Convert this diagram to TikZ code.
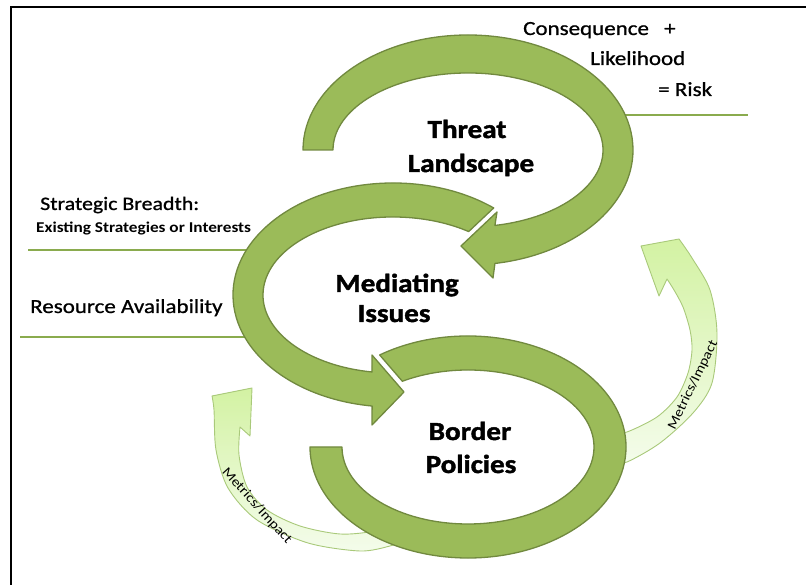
\documentclass[tikz,border=0pt]{standalone}
\usepackage{fontspec}
\setmainfont{Carlito}[FakeStretch=1.15]
\newfontfamily\semibfont{Carlito}[FakeStretch=1.15,FakeBold=0.9]
\newfontfamily\heavyfont{Carlito}[FakeStretch=1.12,BoldFont={Carlito Bold},BoldFeatures={FakeBold=1.6,FakeStretch=1.12}]
\usetikzlibrary{calc}
\definecolor{ringfill}{HTML}{9BBB59}
\definecolor{ringdraw}{HTML}{71893F}
\definecolor{lineg}{HTML}{8AAB4E}
\definecolor{lighttop}{HTML}{D3F2A3}
\definecolor{lightbot}{HTML}{F4FCEB}
\definecolor{lightdraw}{HTML}{A9C97A}
\begin{document}
\begin{tikzpicture}[x=1pt,y=1pt,
  ring/.style={fill=ringfill,draw=ringdraw,line width=1.3pt,line join=round},
  lightarrow/.style={top color=lighttop,bottom color=lightbot,draw=lightdraw,line width=0.9pt,line join=round},
  sideline/.style={draw=lineg,line width=2.6pt},
  bigtxt/.style={font=\heavyfont\fontsize{26}{30}\selectfont\bfseries,inner sep=0pt,anchor=base},
  smalltxt/.style={font=\semibfont\fontsize{20}{24}\selectfont,inner sep=0pt,anchor=base west},
  tinytxt/.style={font=\fontsize{15}{18}\selectfont\bfseries,inner sep=0pt,anchor=base west},
  metric/.style={font=\fontsize{13.5}{15}\selectfont,inner sep=0pt}]
\useasboundingbox (0,0) rectangle (806,585);
% frame
\coordinate (fbl) at (11,0);
\coordinate (ftl) at (11,578);
\coordinate (ftr) at (806,578);
\draw[line width=2.5pt,line cap=rect] (fbl) -- (ftl) -- (ftr);
% centres
\coordinate (T) at (468,435);
\coordinate (M) at (393,290);
\coordinate (B) at (468,138);
% side lines
\coordinate (l1a) at (28,335); \coordinate (l1b) at (260,335);
\coordinate (l2a) at (20,248); \coordinate (l2b) at (260,248);
\coordinate (l3a) at (610,470); \coordinate (l3b) at (748,470);
\draw[sideline] (l1a) -- (l1b);
\draw[sideline] (l2a) -- (l2b);
\draw[sideline] (l3a) -- (l3b);
% light arrows
\path[lightarrow] plot[smooth] coordinates {(612,152) (627,153) (657,168) (677,188) (688,212) (692,235) (690,255) (683,278) (674,295) (667,306)}
  -- (659,289) -- (641,339) -- (679,346)
  -- plot[smooth] coordinates {(679,346) (692,327) (710,295) (717,252) (712,202) (693,172) (660,142) (627,123) (612,122)} -- cycle;
\path[lightarrow] plot[smooth] coordinates {(405,45) (390,39) (360,34) (308,42) (257,65) (228,97) (216,135) (214,175) (212,189)}
  -- (252,197) -- (250,149) -- (240,158)
  -- plot[smooth] coordinates {(240,158) (239,130) (247,98) (267,75) (300,59) (340,51) (375,54) (405,63)} -- cycle;
\node[metric,rotate=64] (m1) at (693,200) {Metrics/Impact};
\node[metric,rotate=-48] (m2) at (257,79) {Metrics/Impact};
% bottom ring
\path[ring] ($(B)+(124:158 and 111)$) arc[start angle=124,end angle=-180,x radius=158,y radius=111]
  -- ($(B)+(180:126 and 77)$) arc[start angle=-180,end angle=121.4,x radius=126,y radius=77] -- cycle;
% mediating ring
\path[ring] ($(M)+(54.4:130 and 78)$) -- ($(M)+(51:160 and 112)$)
  arc[start angle=51,end angle=262.5,x radius=160,y radius=112]
  -- (372,160) -- (404,193) -- (372,230)
  -- ($(M)+(260.7:130 and 78)$) arc[start angle=260.7,end angle=54.4,x radius=130,y radius=78] -- cycle;
% top ring
\path[ring] ($(T)+(180:165 and 115)$) arc[start angle=180,end angle=-80.6,x radius=165,y radius=115]
  -- (493,307) -- (461,339) -- (497,373)
  -- ($(T)+(-78.5:135 and 77)$) arc[start angle=-78.5,end angle=180,x radius=135,y radius=77] -- cycle;
% main labels
\node[bigtxt] (t1) at (467,447) {Threat};
\node[bigtxt] (t2) at (471,413) {Landscape};
\node[bigtxt] (mi1) at (397,293) {Mediating};
\node[bigtxt] (mi2) at (394,263) {Issues};
\node[bigtxt] (b1) at (470,145) {Border};
\node[bigtxt] (b2) at (471,112) {Policies};
% side labels
\node[smalltxt] (c1) at (523,550) {Consequence};
\node[smalltxt] (c2) at (664,550) {+};
\node[smalltxt] (c3) at (590,520) {Likelihood};
\node[smalltxt] (c4) at (658,489) {= Risk};
\node[smalltxt,font=\semibfont\fontsize{19}{22}\selectfont] (s1) at (40,375) {Strategic Breadth:};
\node[tinytxt] (s2) at (36,352) {Existing Strategies or Interests};
\node[smalltxt] (r1) at (30,272) {Resource Availability};
\end{tikzpicture}
\end{document}
